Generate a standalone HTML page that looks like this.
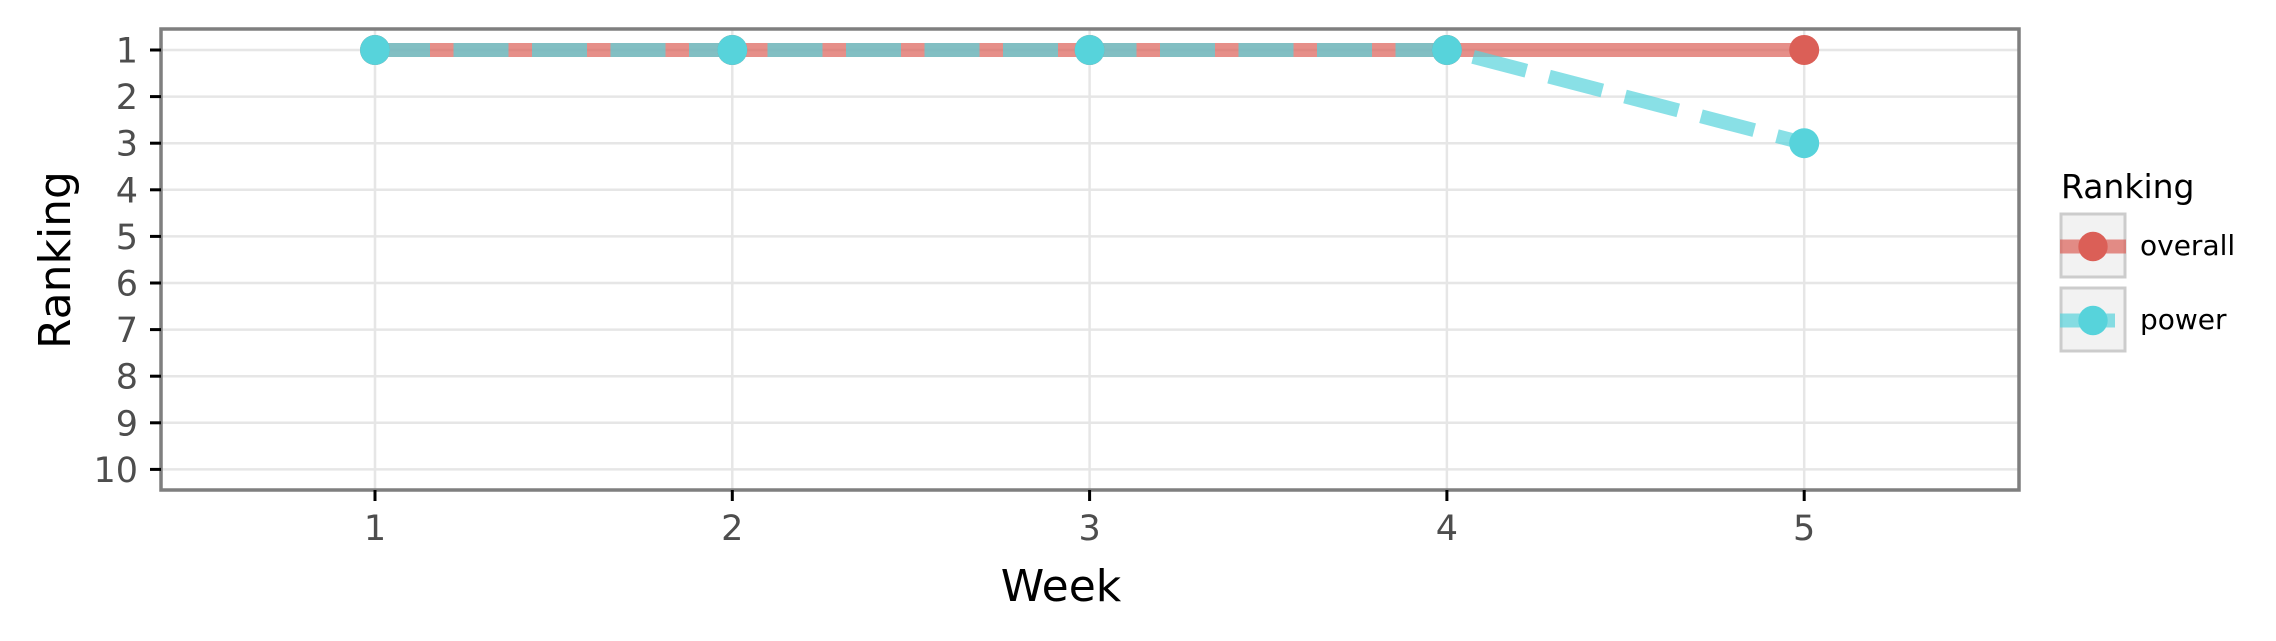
<!DOCTYPE html>
<html><head><meta charset="utf-8"><style>
html,body{margin:0;padding:0;background:#fff;}
svg{display:block;font-family:"DejaVu Sans","Liberation Sans",sans-serif;}
</style></head><body>
<svg id="chart" width="2276" height="641" viewBox="0 0 2276 641" xmlns="http://www.w3.org/2000/svg">
<rect x="0" y="0" width="2276" height="641" fill="#fff"/>
<g id="grid"></g>
<g id="series"></g>
<rect x="161" y="29" width="1858" height="461" fill="none" stroke="#7f7f7f" stroke-width="3.5"/>
<g id="axes"></g>
<text x="1061" y="601" font-size="44" text-anchor="middle" fill="#000">Week</text>
<text transform="translate(70,260) rotate(-90)" font-size="44" text-anchor="middle" fill="#000">Ranking</text>
<g>
  <text x="2061" y="198" font-size="33" fill="#000">Ranking</text>
  <rect x="2061" y="214" width="64" height="63" fill="#f2f2f2" stroke="#cccccc" stroke-width="3"/>
  <line x1="2060" y1="246.5" x2="2126" y2="246.5" stroke="#db5f57" stroke-opacity="0.7" stroke-width="14"/>
  <circle cx="2093" cy="246.5" r="14.7" fill="#db5f57"/>
  <text x="2140" y="255" font-size="28" fill="#000">overall</text>
  <rect x="2061" y="288" width="64" height="63" fill="#f2f2f2" stroke="#cccccc" stroke-width="3"/>
  <line x1="2060" y1="320.5" x2="2115" y2="320.5" stroke="#57d3db" stroke-opacity="0.7" stroke-width="14"/>
  <circle cx="2093" cy="320.5" r="14.7" fill="#57d3db"/>
  <text x="2140" y="329" font-size="28" fill="#000">power</text>
</g>
</svg>
<script>
const weeks = [1, 2, 3, 4, 5];
const overallRank = [1, 1, 1, 1, 1];
const powerRank = [1, 1, 1, 1, 3];
const yTicks = [1, 2, 3, 4, 5, 6, 7, 8, 9, 10];
const xTicks = [1, 2, 3, 4, 5];

const NS = "http://www.w3.org/2000/svg";
const panel = {l: 161, r: 2019, t: 29, b: 490};
function xs(v) { return 375 + (v - 1) * 357.3; }
function ys(v) { return 50 + (v - 1) * 46.6; }
function mk(tag, attrs, parent) {
  const e = document.createElementNS(NS, tag);
  for (const k in attrs) e.setAttribute(k, attrs[k]);
  parent.appendChild(e);
  return e;
}
const grid = document.getElementById('grid');
const axes = document.getElementById('axes');
const series = document.getElementById('series');

yTicks.forEach(v => {
  const g = mk('line', {x1: panel.l, x2: panel.r, y1: ys(v), y2: ys(v), stroke: '#e6e6e6', 'stroke-width': 2.5}, grid);
  
  
  const t = mk('line', {x1: 150, x2: 161, y1: ys(v), y2: ys(v), stroke: '#000', 'stroke-width': 3}, axes);
  
  
  const l = mk('text', {x: 138, y: ys(v) + 12.5, 'font-size': 35, 'text-anchor': 'end', fill: '#4d4d4d'}, axes);
  l.textContent = v;
  
  
});
xTicks.forEach(v => {
  const g = mk('line', {x1: xs(v), x2: xs(v), y1: panel.t, y2: panel.b, stroke: '#e6e6e6', 'stroke-width': 2.5}, grid);
  
  
  const t = mk('line', {x1: xs(v), x2: xs(v), y1: 490, y2: 501, stroke: '#000', 'stroke-width': 3}, axes);
  
  
  const l = mk('text', {x: xs(v), y: 540, 'font-size': 35, 'text-anchor': 'middle', fill: '#4d4d4d'}, axes);
  l.textContent = v;
  
  
});

function pts(vals) { return weeks.map((w, i) => xs(w) + ',' + ys(vals[i])).join(' '); }
const lo = mk('polyline', {points: pts(overallRank), fill: 'none', stroke: '#db5f57', 'stroke-opacity': 0.7, 'stroke-width': 14}, series);


const lp = mk('polyline', {points: pts(powerRank), fill: 'none', stroke: '#57d3db', 'stroke-opacity': 0.7, 'stroke-width': 14, 'stroke-dasharray': '55 23.5'}, series);


weeks.forEach((w, i) => {
  const c = mk('circle', {cx: xs(w), cy: ys(overallRank[i]), r: 15, fill: '#db5f57'}, series);
  
  
});
weeks.forEach((w, i) => {
  const c = mk('circle', {cx: xs(w), cy: ys(powerRank[i]), r: 15, fill: '#57d3db'}, series);
  
  
});
</script>
</body></html>
